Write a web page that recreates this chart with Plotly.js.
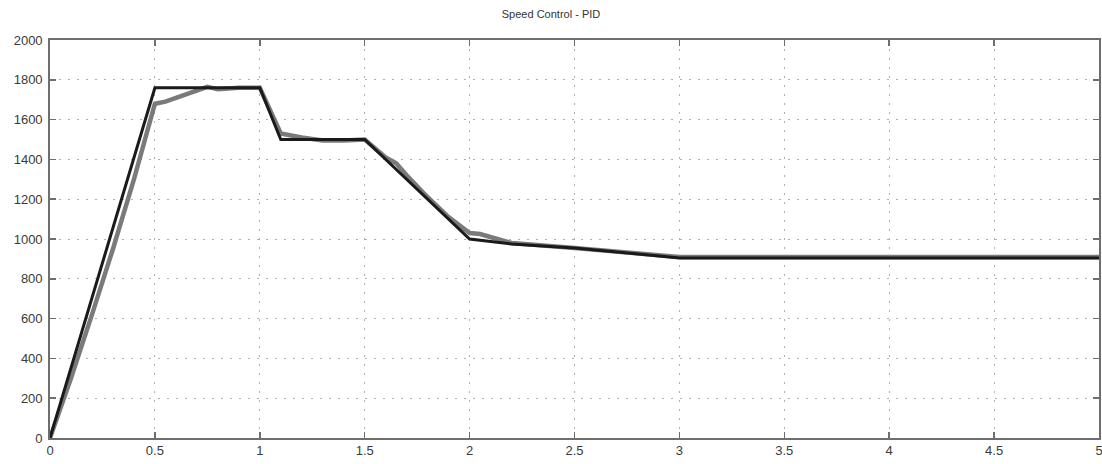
<!DOCTYPE html>
<html>
<head>
<meta charset="utf-8">
<script src="https://cdn.plot.ly/plotly-3.0.1.min.js"></script>
<style>html,body{margin:0;padding:0;background:#fff;}#chart{width:1102px;height:464px;}</style>
</head>
<body>
<div id="chart"></div>
<script>
// Reference speed (black)
const refTime  = [0, 0.5, 1.0, 1.1, 1.5, 2.0, 2.2, 2.5, 3.0, 5.0];
const refSpeed = [0, 1760, 1760, 1500, 1500, 1000, 975, 955, 905, 905];
// Actual speed with PID (gray)
const actTime  = [0, 0.1, 0.2, 0.3, 0.4, 0.5, 0.55, 0.65, 0.75, 0.8, 0.9, 1.0, 1.1, 1.2, 1.3, 1.4, 1.5, 1.6, 1.65, 1.7, 1.8, 1.9, 2.0, 2.05, 2.2, 2.5, 3.0, 5.0];
const actSpeed = [0, 300, 620, 950, 1300, 1680, 1690, 1730, 1765, 1752, 1760, 1760, 1530, 1510, 1495, 1495, 1500, 1410, 1380, 1320, 1210, 1110, 1030, 1025, 980, 955, 910, 910];
const xTicks = [0, 0.5, 1, 1.5, 2, 2.5, 3, 3.5, 4, 4.5, 5];
const yTicks = [0, 200, 400, 600, 800, 1000, 1200, 1400, 1600, 1800, 2000];

const traces = [
  {x: actTime, y: actSpeed, mode: 'lines', line: {color: '#7a7a7a', width: 4.5}, hoverinfo: 'skip', cliponaxis: false},
  {x: refTime, y: refSpeed, mode: 'lines', line: {color: '#1a1a1a', width: 3}, hoverinfo: 'skip', cliponaxis: false}
];
const axisCommon = {
  showline: true, mirror: 'ticks', linecolor: '#6e6e6e', linewidth: 1.8,
  ticks: 'inside', ticklen: 6, tickcolor: '#6e6e6e', tickwidth: 1.5,
  showgrid: true, gridcolor: '#b0b0b0', griddash: '2px,7px', gridwidth: 1,
  zeroline: false, ticklabeloverflow: 'allow',
  tickfont: {family: 'Liberation Sans, Arial, sans-serif', size: 13, color: '#3a3a3a'}
};
const layout = {
  width: 1102, height: 464,
  margin: {l: 50, r: 3, t: 40, b: 26},
  paper_bgcolor: '#fff', plot_bgcolor: '#fff',
  showlegend: false,
  title: {text: 'Speed Control - PID', x: 0.5, xanchor: 'center', y: 0.97, yanchor: 'middle',
          font: {family: 'Liberation Sans, Arial, sans-serif', size: 11, color: '#333'}},
  xaxis: Object.assign({}, axisCommon, {range: [0, 5], tickvals: xTicks, ticktext: xTicks.map(String), automargin: false}),
  yaxis: Object.assign({}, axisCommon, {range: [0, 2000], tickvals: yTicks, ticktext: yTicks.map(String), ticklabelstandoff: 3, automargin: false})
};
Plotly.newPlot('chart', traces, layout, {staticPlot: true, displayModeBar: false});
</script>
</body>
</html>
